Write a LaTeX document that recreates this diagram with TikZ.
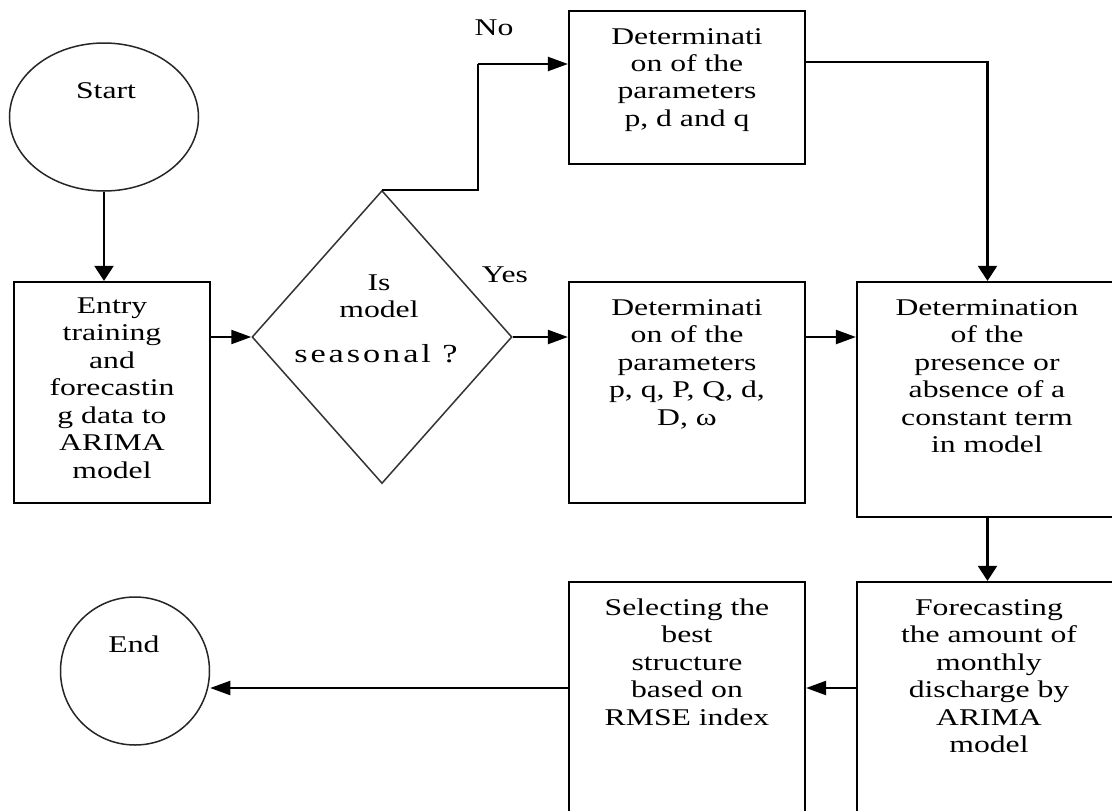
\documentclass[tikz,border=0pt]{standalone}
\usepackage{fontspec}
\setmainfont{Liberation Serif}
\newfontfamily\seasfont[LetterSpace=8.5]{Liberation Serif}
\usepackage{graphicx}
\usetikzlibrary{shapes.geometric,arrows.meta}
\newcommand\ftxt[1]{\scalebox{1.32}[1]{\begin{tabular}[t]{@{}c@{}}#1\end{tabular}}}
\begin{document}
\begin{tikzpicture}[x=1pt,y=-1pt,
  box/.style={draw=black,line width=2.2pt,rectangle,inner sep=0pt},
  oval/.style={draw=black!85,line width=1.5pt,ellipse,inner sep=0pt},
  dec/.style={draw=black!80,line width=1.5pt,diamond,inner sep=0pt},
  txt/.style={anchor=base,inner sep=0pt,font=\fontsize{24}{27.5}\selectfont},
  conn/.style={line width=2.2pt,draw=black},
  harr/.style={conn,-{Triangle[length=20pt,width=14pt]}},
  varr/.style={conn,-{Triangle[length=15pt,width=19pt]}}]
\useasboundingbox (0,0) rectangle (1112,811);
\fill[white] (0,0) rectangle (1112,811);
\begin{scope}
\clip (0,0) rectangle (1112,811);
% shapes
\node[oval,minimum width=189pt,minimum height=148pt] (start) at (104,117) {};
\node[box,minimum width=196pt,minimum height=221pt] (entry) at (112,392.5) {};
\node[dec,minimum width=260pt,minimum height=293pt] (dia) at (382,337) {};
\node[box,minimum width=236pt,minimum height=153pt] (pdq) at (687,87.5) {};
\node[box,minimum width=236pt,minimum height=221pt] (pqPQ) at (687,392.5) {};
\node[box,minimum width=261pt,minimum height=235pt] (const) at (987.5,399.5) {};
\node[box,minimum width=261pt,minimum height=236pt] (fore) at (987.5,700) {};
\node[box,minimum width=236pt,minimum height=236pt] (sel) at (687,700) {};
\node[oval,minimum width=149pt,minimum height=148pt] (endc) at (135,671) {};
\end{scope}
% texts
\node[txt] (tstart) at (106,98) {\scalebox{1.32}[1]{Start}};
\node[txt] (tend) at (134,652) {\scalebox{1.32}[1]{End}};
\node[txt] (tentry) at (112,313) {\ftxt{Entry\\training\\and\\forecastin\\g data to\\ARIMA\\model}};
\node[txt] (tdia) at (379,290) {\ftxt{Is\\model}};
\node[txt,font=\fontsize{26}{30}\selectfont] (tseas) at (376,362) {\scalebox{1.32}[1]{\seasfont seasonal ?}};
\node[txt] (tpdq) at (687,44) {\ftxt{Determinati\\on of the\\parameters\\p, d and q}};
\node[txt] (tpq) at (687,315) {\ftxt{Determinati\\on of the\\parameters\\p, q, P, Q, d,\\D, ω}};
\node[txt] (tconst) at (987,315) {\ftxt{Determination\\of the\\presence or\\absence of a\\constant term\\in model}};
\node[txt] (tfore) at (989,615) {\ftxt{Forecasting\\the amount of\\monthly\\discharge by\\ARIMA\\model}};
\node[txt] (tsel) at (687,615) {\ftxt{Selecting the\\best\\structure\\based on\\RMSE index}};
\node[txt] (lno) at (494,35) {\scalebox{1.32}[1]{No}};
\node[txt] (lyes) at (505,282) {\scalebox{1.32}[1]{Yes}};
% helper coordinates
\coordinate (nobend) at (478,64);
\coordinate (pdqout) at (805,62);
\coordinate (lowy) at (0,688);
% connectors
\draw[varr] (start.south) -- (start.south |- entry.north);
\draw[harr] (entry.east |- dia.west) -- (dia.west);
\draw[conn] (dia.north) -| (nobend);
\draw[harr] (nobend) -- (nobend -| pdq.west);
\draw[harr] (dia.east) -- (dia.east -| pqPQ.west);
\draw[varr] (pdqout) -| (const.north);
\draw[harr] (pqPQ.east |- dia.east) -- (const.west |- dia.east);
\draw[varr] (const.south) -- (fore.north);
\draw[harr] (fore.west |- lowy) -- (sel.east |- lowy);
\draw[harr] (sel.west |- lowy) -- (endc.east |- lowy);
\end{tikzpicture}
\end{document}
